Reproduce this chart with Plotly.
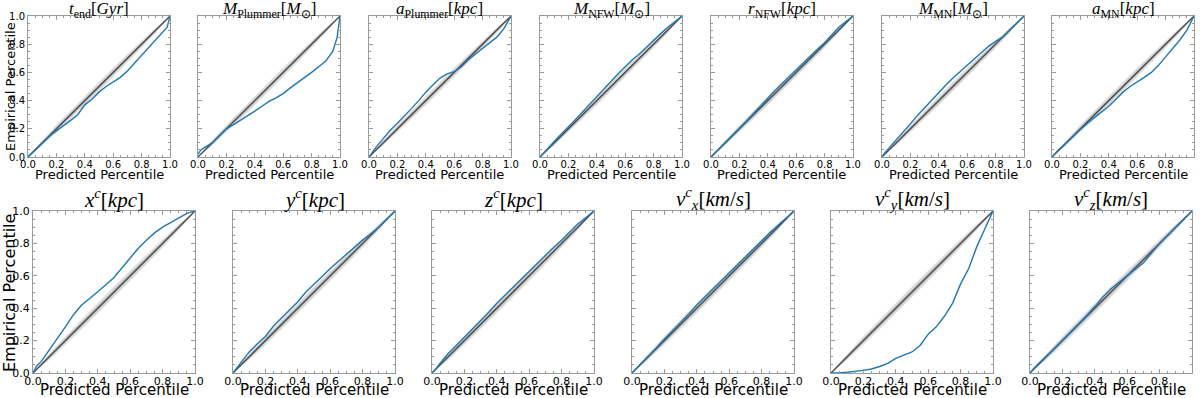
import plotly.graph_objects as go

W, H = 1200, 398

# predicted percentile grid (x) shared by all panels
pred = [0, .02, .05, .1, .15, .2, .25, .3, .35, .4, .45, .5, .55, .6, .65, .7, .75, .8, .85, .9, .95, .98, 1]

# empirical percentile
t_end = [0, .02, .05, .10, .145, .185, .22, .26, .30, .37, .41, .46, .50, .53, .565, .61, .665, .72, .77, .83, .88, .92, 1.0]
m_plummer = [.02, .05, .07, .10, .15, .20, .23, .26, .29, .325, .36, .395, .42, .45, .49, .525, .565, .60, .64, .68, .75, .85, 1.0]
a_plummer = [0, .03, .07, .13, .19, .24, .29, .345, .40, .46, .51, .56, .59, .605, .64, .69, .73, .77, .81, .85, .91, .96, 1.0]
m_nfw = [0, .02, .055, .11, .16, .215, .265, .32, .375, .43, .485, .535, .59, .64, .69, .73, .78, .83, .875, .92, .96, .985, 1]
r_nfw = [0, .02, .05, .10, .15, .20, .255, .31, .365, .42, .47, .52, .57, .62, .665, .72, .765, .81, .865, .92, .96, .985, 1]
m_mn = [0, .03, .065, .12, .18, .235, .295, .35, .405, .46, .51, .56, .605, .65, .695, .74, .785, .82, .85, .90, .95, .98, 1]
a_mn = [0, .025, .055, .10, .15, .195, .24, .28, .32, .36, .41, .46, .50, .53, .565, .60, .65, .71, .77, .83, .90, .96, 1]
x_c = [0, .04, .07, .14, .215, .285, .36, .42, .46, .50, .545, .59, .65, .71, .77, .82, .865, .90, .93, .955, .985, .995, 1]
y_c = [0, .025, .065, .13, .18, .225, .29, .34, .39, .44, .50, .545, .595, .645, .69, .73, .775, .82, .86, .90, .95, .98, 1]
z_c = [0, .02, .06, .12, .17, .22, .27, .32, .375, .43, .48, .53, .58, .63, .68, .73, .775, .82, .87, .92, .96, .985, 1]
vx_c = [0, .02, .05, .10, .155, .21, .26, .31, .365, .42, .47, .515, .57, .62, .67, .715, .77, .82, .865, .91, .955, .985, 1]
vy_c = [0, 0, .001, .005, .01, .016, .025, .04, .06, .09, .11, .13, .17, .24, .285, .35, .43, .55, .645, .78, .89, .96, 1]
vz_c = [0, .025, .055, .10, .15, .20, .25, .30, .355, .41, .47, .52, .56, .60, .635, .68, .74, .80, .85, .90, .95, .98, 1]

# ideal calibration line and the grey band half-width around it
ideal = [0, 1]
band_p = [0, .1, .2, .3, .4, .5, .6, .7, .8, .9, 1]
band_hw = [0, .021, .028, .032, .034, .035, .034, .032, .028, .021, 0]

titles = [
    "<i>t</i><sub>end</sub>[<i>Gyr</i>]",
    "<i>M</i><sub>Plummer</sub>[<i>M</i><sub>⊙</sub>]",
    "<i>a</i><sub>Plummer</sub>[<i>kpc</i>]",
    "<i>M</i><sub>NFW</sub>[<i>M</i><sub>⊙</sub>]",
    "<i>r</i><sub>NFW</sub>[<i>kpc</i>]",
    "<i>M</i><sub>MN</sub>[<i>M</i><sub>⊙</sub>]",
    "<i>a</i><sub>MN</sub>[<i>kpc</i>]",
    "<i>x</i><sup><i>c</i></sup>[<i>kpc</i>]",
    "<i>y</i><sup><i>c</i></sup>[<i>kpc</i>]",
    "<i>z</i><sup><i>c</i></sup>[<i>kpc</i>]",
    "<i>v</i><sup><i>c</i></sup><sub><i>x</i></sub>[<i>km</i>/<i>s</i>]",
    "<i>v</i><sup><i>c</i></sup><sub><i>y</i></sub>[<i>km</i>/<i>s</i>]",
    "<i>v</i><sup><i>c</i></sup><sub><i>z</i></sub>[<i>km</i>/<i>s</i>]",
]
curves = [t_end, m_plummer, a_plummer, m_nfw, r_nfw, m_mn, a_mn, x_c, y_c, z_c, vx_c, vy_c, vz_c]

# panel boxes in pixels: (left, right, top, bottom)
boxes = [(l, l + 142, 16, 157) for l in [28, 198, 369, 540, 711, 882, 1052]]
boxes += [(l, l + 162, 211, 373) for l in [33, 233, 432, 632, 831, 1030]]

fig = go.Figure()
annots = []
for i, (title, emp, box) in enumerate(zip(titles, curves, boxes)):
    n = i + 1
    xa, ya = ("x", "y") if n == 1 else (f"x{n}", f"y{n}")
    top_row = i < 7
    # grey gradient band: stacked translucent layers
    for f in [1.0, 0.75, 0.5, 0.25]:
        up = [p + f * h for p, h in zip(band_p, band_hw)]
        lo = [p - f * h for p, h in zip(band_p, band_hw)]
        fig.add_trace(go.Scatter(x=band_p + band_p[::-1], y=up + lo[::-1], fill="toself",
                                 fillcolor="rgba(90,90,90,0.13)", line=dict(width=0),
                                 hoverinfo="skip", showlegend=False, xaxis=xa, yaxis=ya))
    fig.add_trace(go.Scatter(x=ideal, y=ideal, mode="lines", line=dict(color="#4a4a4a", width=1.3),
                             showlegend=False, xaxis=xa, yaxis=ya))
    fig.add_trace(go.Scatter(x=pred, y=emp, mode="lines", line=dict(color="#1f77b4", width=1.4),
                             showlegend=False, xaxis=xa, yaxis=ya))

    l, r, t, b = box
    tick_size = 10 if top_row else 11
    common = dict(range=[0, 1], showgrid=False, zeroline=False, showline=True, linecolor="#9a9a9a",
                  linewidth=1, mirror="allticks", ticks="inside", ticklen=4, tickcolor="#9a9a9a",
                  tickvals=[0, .2, .4, .6, .8, 1], ticktext=["0.0", "0.2", "0.4", "0.6", "0.8", "1.0"],
                  tickfont=dict(family="DejaVu Sans", size=tick_size, color="black"),
                  minor=dict(ticks="inside", ticklen=2, dtick=0.05, tickcolor="#9a9a9a"),
                  automargin=False, fixedrange=True)
    fig.layout[f"xaxis{n if n > 1 else ''}"] = dict(common, domain=[l / W, r / W], anchor=ya,
                                                     ticklabelstandoff=-2)
    fig.layout[f"yaxis{n if n > 1 else ''}"] = dict(common, domain=[1 - b / H, 1 - t / H], anchor=xa,
                                                     showticklabels=(i in (0, 7)))

    cx = (l + r) / 2 / W
    annots.append(dict(text=title, x=cx, y=1 - (10 if top_row else 198) / H, xref="paper", yref="paper",
                       xanchor="center", yanchor="middle", showarrow=False, borderpad=0,
                       font=dict(family="Liberation Serif", size=17 if top_row else 21, color="black")))
    annots.append(dict(text="Predicted Percentile", x=cx, y=1 - (b + 17 if top_row else b + 17) / H,
                       xref="paper", yref="paper", xanchor="center", yanchor="middle", showarrow=False,
                       borderpad=0, font=dict(family="DejaVu Sans", size=13 if top_row else 15, color="black")))

annots.append(dict(text="Empirical Percentile", x=10 / W, y=1 - 87 / H, xref="paper", yref="paper",
                   textangle=-90, showarrow=False, xanchor="center", yanchor="middle",
                   font=dict(family="DejaVu Sans", size=13, color="black")))
annots.append(dict(text="Empirical Percentile", x=9 / W, y=1 - 293 / H, xref="paper", yref="paper",
                   textangle=-90, showarrow=False, xanchor="center", yanchor="middle",
                   font=dict(family="DejaVu Sans", size=16, color="black")))

fig.update_layout(template="none", width=W, height=H, margin=dict(l=0, r=0, t=0, b=0),
                  paper_bgcolor="white", plot_bgcolor="white", annotations=annots, showlegend=False)
# drop the page's default body margin so the figure sits at the window's corner
fig.write_html("out.html", config={"displayModeBar": False},
               post_script="document.body.style.margin='0';document.body.style.overflow='hidden';")
